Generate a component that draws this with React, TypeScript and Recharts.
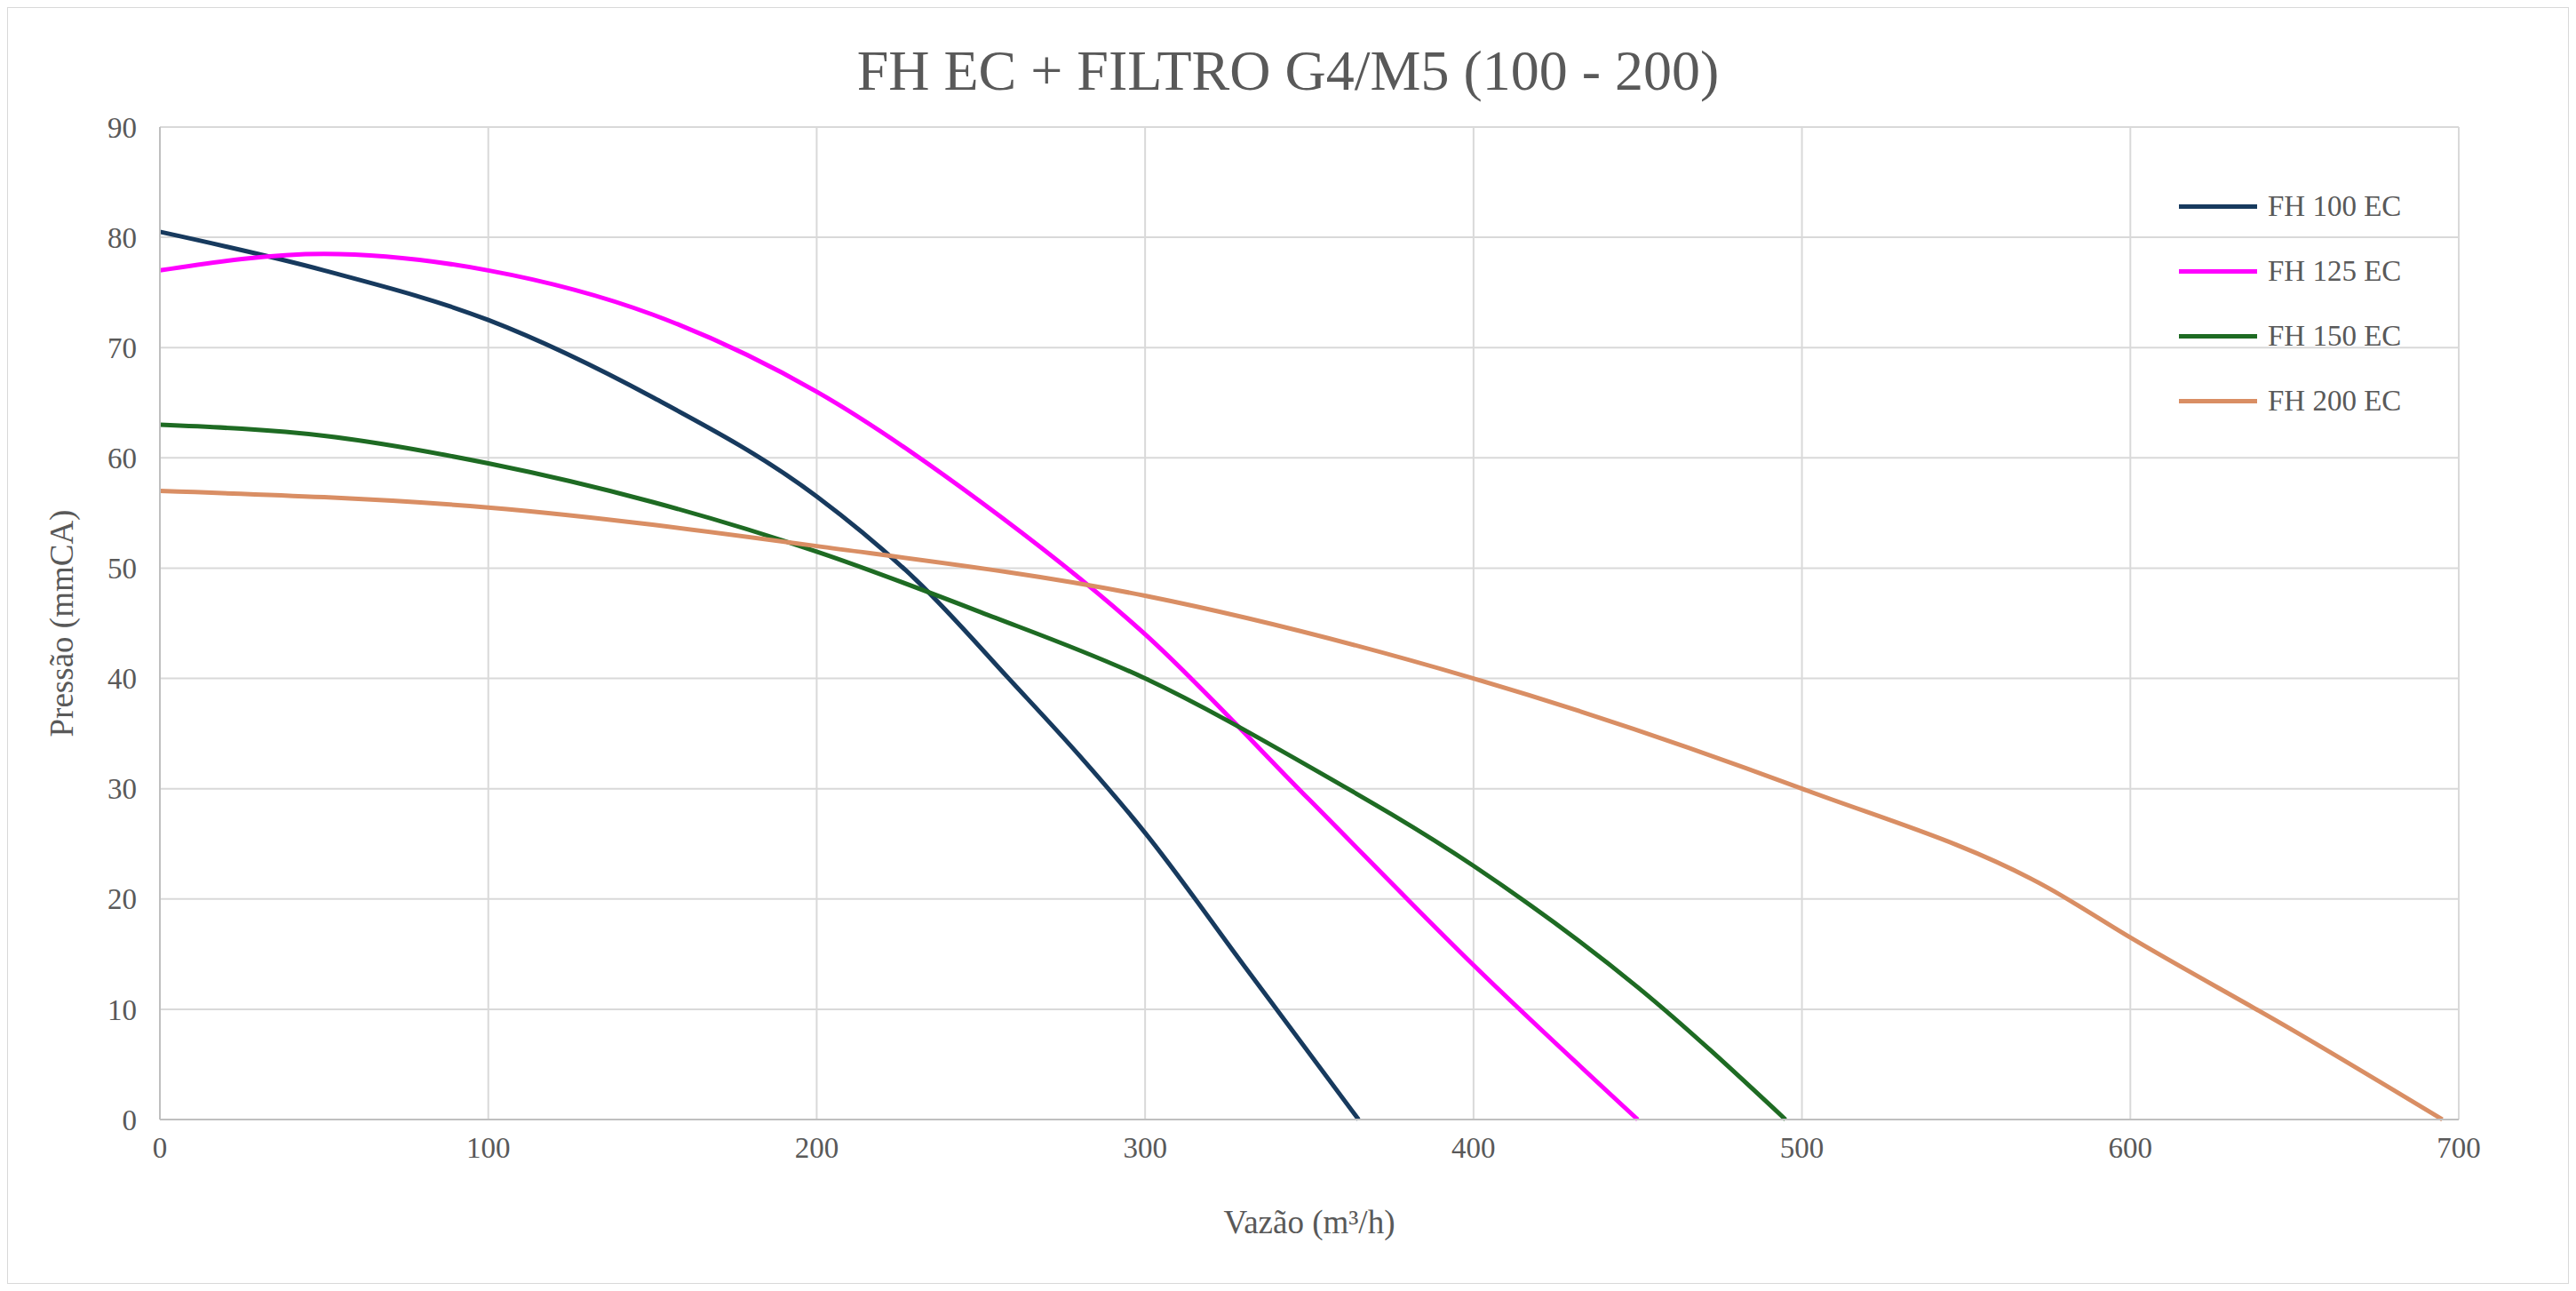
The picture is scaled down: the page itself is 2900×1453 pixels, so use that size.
import { LineChart, Line, XAxis, YAxis, CartesianGrid } from 'recharts';

const fh100 = [
  { x: 0, y: 80.5 }, { x: 50, y: 77 }, { x: 100, y: 72.5 }, { x: 150, y: 65.5 }, { x: 200, y: 56.5 },
  { x: 230, y: 49 }, { x: 260, y: 39.5 }, { x: 280, y: 33 }, { x: 300, y: 26 }, { x: 330, y: 14 }, { x: 365, y: 0 },
];
const fh125 = [
  { x: 0, y: 77 }, { x: 50, y: 78.5 }, { x: 100, y: 77 }, { x: 150, y: 73 }, { x: 200, y: 66 },
  { x: 250, y: 56 }, { x: 300, y: 44 }, { x: 350, y: 29 }, { x: 400, y: 14 }, { x: 450, y: 0 },
];
const fh150 = [
  { x: 0, y: 63 }, { x: 50, y: 62 }, { x: 100, y: 59.5 }, { x: 150, y: 56 }, { x: 200, y: 51.5 },
  { x: 250, y: 46 }, { x: 300, y: 40 }, { x: 350, y: 32 }, { x: 400, y: 23 }, { x: 450, y: 12 }, { x: 495, y: 0 },
];
const fh200 = [
  { x: 0, y: 57 }, { x: 100, y: 55.5 }, { x: 200, y: 52 }, { x: 300, y: 47.5 }, { x: 400, y: 40 },
  { x: 500, y: 30 }, { x: 575, y: 21 }, { x: 600, y: 16.5 }, { x: 650, y: 8 }, { x: 695, y: 0 },
];

const xTicks = [0, 100, 200, 300, 400, 500, 600, 700];
const yTicks = [0, 10, 20, 30, 40, 50, 60, 70, 80, 90];

const SERIES = [
  { name: 'FH 100 EC', data: fh100, color: '#173a5e' },
  { name: 'FH 125 EC', data: fh125, color: '#ff00ff' },
  { name: 'FH 150 EC', data: fh150, color: '#1e6b23' },
  { name: 'FH 200 EC', data: fh200, color: '#d98e64' },
];

const FONT = '"Liberation Serif", serif';
const TICK = { fontSize: 33, fill: '#595959', fontFamily: FONT };

// legend drawn over the plot, top-right, like the Excel original
const LegendBox = () => (
  <div style={{ position: 'absolute', top: 187, left: 2444, fontFamily: FONT, fontSize: 33, color: '#595959' }}>
    {SERIES.map((s) => (
      <div key={s.name} style={{ display: 'flex', alignItems: 'center', height: 73 }}>
        <div style={{ width: 88, height: 5, background: s.color, marginRight: 12 }} />
        {s.name}
      </div>
    ))}
  </div>
);

export default function App() {
  return (
    <div style={{ position: 'relative', width: 2882, height: 1435, border: '1px solid #d9d9d9', background: '#fff' }}>
      <div
        style={{
          position: 'absolute', top: 34, width: '100%', textAlign: 'center',
          fontFamily: FONT, fontSize: 64, color: '#595959',
        }}
      >
        FH EC + FILTRO G4/M5 (100 - 200)
      </div>
      <LineChart width={2882} height={1435} margin={{ top: 134, right: 123, left: 60, bottom: 84 }}>
        <CartesianGrid stroke="#d9d9d9" strokeWidth={2} />
        <XAxis
          type="number" dataKey="x" domain={[0, 700]} ticks={xTicks} height={100}
          tick={TICK} tickLine={false} axisLine={{ stroke: '#bfbfbf', strokeWidth: 2 }} tickMargin={14}
          label={{ value: 'Vazão (m³/h)', position: 'insideBottom', offset: -28, style: { ...TICK, fontSize: 37 } }}
          allowDuplicatedCategory={false}
        />
        <YAxis
          type="number" domain={[0, 90]} ticks={yTicks} width={111}
          tick={TICK} tickLine={false} axisLine={{ stroke: '#bfbfbf', strokeWidth: 2 }} tickMargin={20}
          label={{ value: 'Pressão (mmCA)', angle: -90, position: 'insideLeft', offset: 0, style: { ...TICK, fontSize: 37, textAnchor: 'middle' } }}
        />
        {SERIES.map((s) => (
          <Line
            key={s.name} data={s.data} dataKey="y" name={s.name} type="monotone"
            stroke={s.color} strokeWidth={5} dot={false} isAnimationActive={false}
          />
        ))}
      </LineChart>
      <LegendBox />
    </div>
  );
}
